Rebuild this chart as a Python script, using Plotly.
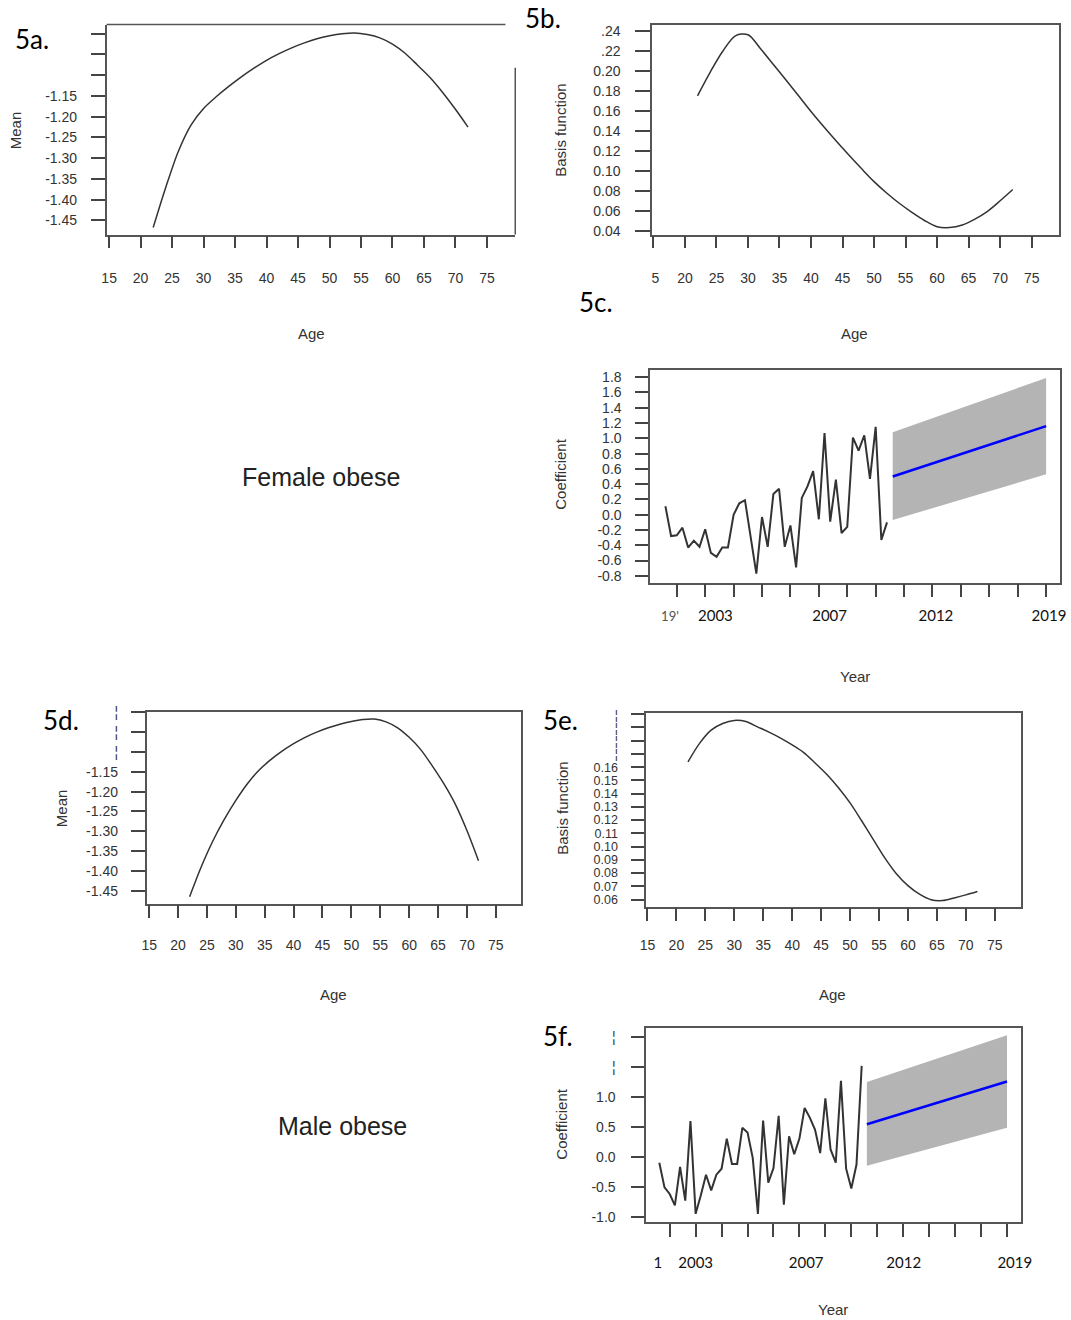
import plotly.graph_objects as go

W, H = 1071, 1320

# ---------------- data ----------------
ages = [22, 24, 26, 28, 30, 32, 34, 36, 38, 40, 42, 44, 46, 48, 50,
        52, 54, 56, 58, 60, 62, 64, 66, 68, 70, 72]

female_mean = [-1.467, -1.37, -1.283, -1.22, -1.18, -1.152, -1.127, -1.104, -1.083,
               -1.064, -1.048, -1.034, -1.022, -1.012, -1.005, -1.000, -0.998,
               -1.002, -1.010, -1.025, -1.047, -1.076, -1.106, -1.142, -1.182, -1.225]

female_basis = [0.1755, 0.199, 0.220, 0.2355, 0.2365, 0.2225, 0.207, 0.1915, 0.1757,
                0.1597, 0.1447, 0.1302, 0.1162, 0.1027, 0.0897, 0.0783, 0.068, 0.059,
                0.0508, 0.0445, 0.0437, 0.0463, 0.0522, 0.060, 0.0705, 0.0818]

male_mean = [-1.465, -1.39, -1.325, -1.27, -1.222, -1.18, -1.146, -1.120, -1.098,
             -1.079, -1.063, -1.050, -1.039, -1.030, -1.023, -1.018, -1.017,
             -1.024, -1.039, -1.063, -1.094, -1.135, -1.180, -1.232, -1.298, -1.374]

male_basis = [0.164, 0.178, 0.188, 0.193, 0.1953, 0.1945, 0.1905, 0.1865, 0.182,
              0.1768, 0.171, 0.163, 0.1545, 0.1445, 0.133, 0.1195, 0.1055, 0.0915,
              0.0795, 0.0705, 0.064, 0.0598, 0.0592, 0.0612, 0.0635, 0.0661]

periods = list(range(40))

female_coef = [0.11, -0.28, -0.27, -0.17, -0.43, -0.34, -0.42, -0.19, -0.50, -0.55,
               -0.43, -0.43, 0.00, 0.15, 0.19, -0.28, -0.77, -0.03, -0.42, 0.27,
               0.34, -0.42, -0.14, -0.69, 0.22, 0.37, 0.57, -0.06, 1.07, -0.09,
               0.46, -0.24, -0.16, 1.01, 0.84, 1.04, 0.47, 1.15, -0.33, -0.10]

male_coef = [-0.09, -0.50, -0.61, -0.80, -0.16, -0.72, 0.60, -0.94, -0.63, -0.29,
             -0.55, -0.29, -0.19, 0.31, -0.11, -0.11, 0.49, 0.41, -0.01, -0.94,
             0.61, -0.42, -0.18, 0.69, -0.79, 0.35, 0.05, 0.31, 0.82, 0.66,
             0.46, 0.07, 0.98, 0.13, -0.09, 1.27, -0.19, -0.52, -0.12, 1.52]

forecast_periods = [40, 67]
female_fc_mean = [0.50, 1.16]
female_fc_lower = [-0.07, 0.53]
female_fc_upper = [1.08, 1.79]
male_fc_mean = [0.55, 1.26]
male_fc_lower = [-0.14, 0.49]
male_fc_upper = [1.25, 2.03]

age_ticks = [15, 20, 25, 30, 35, 40, 45, 50, 55, 60, 65, 70, 75]
age_ticktext_a = [str(a) for a in age_ticks]
age_ticktext_b = ["\u00a05"] + [str(a) for a in age_ticks[1:]]

mean_ticks = [-1.45, -1.40, -1.35, -1.30, -1.25, -1.20, -1.15, -1.10, -1.05, -1.00]
mean_text_a = ["-1.45", "-1.40", "-1.35", "-1.30", "-1.25", "-1.20", "-1.15", "", "", ""]
mean_text_d = ["-1.45", "-1.40", "-1.35", "-1.30", "-1.25", "-1.20", "-1.15", "\u00a6", "\u00a6", "\u00a6"]

basis_ticks_b = [0.04, 0.06, 0.08, 0.10, 0.12, 0.14, 0.16, 0.18, 0.20, 0.22, 0.24]
basis_text_b = ["0.04", "0.06", "0.08", "0.10", "0.12", "0.14", "0.16", "0.18", "0.20", ".22", ".24"]

basis_ticks_e = [0.06, 0.07, 0.08, 0.09, 0.10, 0.11, 0.12, 0.13, 0.14, 0.15, 0.16,
                 0.17, 0.18, 0.19, 0.20]
basis_text_e = ["0.06", "0.07", "0.08", "0.09", "0.10", "0.11", "0.12", "0.13", "0.14",
                "0.15", "0.16", "\u00a6", "\u00a6", "\u00a6", "\u00a6"]

coef_ticks_c = [-0.8, -0.6, -0.4, -0.2, 0.0, 0.2, 0.4, 0.6, 0.8, 1.0, 1.2, 1.4, 1.6, 1.8]
coef_text_c = ["-0.8", "-0.6", "-0.4", "-0.2", "0.0", "0.2", "0.4", "0.6", "0.8",
               "1.0", "1.2", "1.4", "1.6", "1.8"]
coef_ticks_f = [-1.0, -0.5, 0.0, 0.5, 1.0, 1.5, 2.0]
coef_text_f = ["-1.0", "-0.5", "0.0", "0.5", "1.0", "\u00a6", "\u00a6"]

period_ticks = [2, 7, 12, 17, 22, 27, 32, 37, 42, 47, 52, 57, 62, 67]

year_label_pos_c = [0.8, 8.8, 28.9, 47.6, 67.5]
year_label_text_c = ["<span style='color:#555;font-size:13px'>19'</span>", "2003", "2007", "2012", "2019"]
year_label_pos_f = [-0.3, 7.0, 28.3, 47.1, 68.5]
year_label_text_f = ["1", "2003", "2007", "2012", "2019"]

# ---------------- styling ----------------
TICKFONT = dict(family="Liberation Sans, Arial, sans-serif", size=14, color="#333")
TICKFONT_SMALL = dict(family="Liberation Sans, Arial, sans-serif", size=12.5, color="#333")
TITLEFONT = dict(family="Liberation Sans, Arial, sans-serif", size=15, color="#333")
YEARFONT = dict(family="Lato, Open Sans, sans-serif", size=15, color="#111")
LINE_COL = "#333"
BOX_COL = "#555"

# screen calibration (observed offset/scale of the captured page)
CAL_SX, CAL_SY = 0.985, 0.991
CAL_OX, CAL_OY = 6.3, 6.4


def cx(x):
    return (x - CAL_OX) / CAL_SX


def cy(y):
    return (y - CAL_OY) / CAL_SY


def dx(l, r):
    return [cx(l) / W, cx(r) / W]


def dy(t, b):
    return [1 - cy(b) / H, 1 - cy(t) / H]


def ax(**kw):
    d = dict(showline=True, mirror=True, linecolor=BOX_COL, linewidth=1.5,
             ticks="outside", tickcolor="#444", tickwidth=1.5,
             showgrid=False, zeroline=False, tickfont=TICKFONT, fixedrange=True)
    d.update(kw)
    return d


# panel boxes in pixels: (left, right, top, bottom)
A = (107, 516, 24, 234)
B = (653, 1060, 24, 234)
C = (651, 1061, 369, 582)
D = (147, 522, 711, 903)
E = (647, 1022, 712, 906)
F = (647, 1022, 1027, 1222)

fig = go.Figure()

# 5a
fig.add_trace(go.Scatter(x=ages, y=female_mean, mode="lines", xaxis="x", yaxis="y",
                         line=dict(color=LINE_COL, width=1.5, shape="spline", smoothing=0.9)))
# 5b
fig.add_trace(go.Scatter(x=ages, y=female_basis, mode="lines", xaxis="x2", yaxis="y2",
                         line=dict(color=LINE_COL, width=1.5, shape="spline", smoothing=0.9)))
# 5c
fig.add_trace(go.Scatter(x=forecast_periods, y=female_fc_lower, mode="lines", xaxis="x3", yaxis="y3",
                         line=dict(width=0, color="#b4b4b4")))
fig.add_trace(go.Scatter(x=forecast_periods, y=female_fc_upper, mode="lines", xaxis="x3", yaxis="y3",
                         line=dict(width=0, color="#b4b4b4"), fill="tonexty", fillcolor="#b4b4b4"))
fig.add_trace(go.Scatter(x=periods, y=female_coef, mode="lines", xaxis="x3", yaxis="y3",
                         line=dict(color=LINE_COL, width=2)))
fig.add_trace(go.Scatter(x=forecast_periods, y=female_fc_mean, mode="lines", xaxis="x3", yaxis="y3",
                         line=dict(color="#0000ff", width=2.5)))
fig.add_trace(go.Scatter(x=[], y=[], xaxis="x7", yaxis="y3", mode="lines"))
# 5d
fig.add_trace(go.Scatter(x=ages, y=male_mean, mode="lines", xaxis="x4", yaxis="y4",
                         line=dict(color=LINE_COL, width=1.5, shape="spline", smoothing=0.9)))
# 5e
fig.add_trace(go.Scatter(x=ages, y=male_basis, mode="lines", xaxis="x5", yaxis="y5",
                         line=dict(color=LINE_COL, width=1.5, shape="spline", smoothing=0.9)))
# 5f
fig.add_trace(go.Scatter(x=forecast_periods, y=male_fc_lower, mode="lines", xaxis="x6", yaxis="y6",
                         line=dict(width=0, color="#b4b4b4")))
fig.add_trace(go.Scatter(x=forecast_periods, y=male_fc_upper, mode="lines", xaxis="x6", yaxis="y6",
                         line=dict(width=0, color="#b4b4b4"), fill="tonexty", fillcolor="#b4b4b4"))
fig.add_trace(go.Scatter(x=periods, y=male_coef, mode="lines", xaxis="x6", yaxis="y6",
                         line=dict(color=LINE_COL, width=2)))
fig.add_trace(go.Scatter(x=forecast_periods, y=male_fc_mean, mode="lines", xaxis="x6", yaxis="y6",
                         line=dict(color="#0000ff", width=2.5)))
fig.add_trace(go.Scatter(x=[], y=[], xaxis="x8", yaxis="y6", mode="lines"))

layout = dict(
    width=W, height=H, margin=dict(l=0, r=0, t=0, b=0),
    paper_bgcolor="white", plot_bgcolor="white", showlegend=False, hovermode=False,
    # 5a (top/right frame drawn separately, clipped as in the source image)
    xaxis=ax(domain=dx(A[0], A[1]), anchor="y", range=[14.6, 79.5], tickvals=age_ticks,
             ticktext=age_ticktext_a, ticklen=12, ticklabelstandoff=18, mirror=False),
    yaxis=ax(domain=dy(A[2], A[3]), anchor="x", range=[-1.484, -0.978], tickvals=mean_ticks,
             ticktext=mean_text_a, ticklen=14, ticklabelstandoff=11, mirror=False),
    # 5b
    xaxis2=ax(domain=dx(B[0], B[1]), anchor="y2", range=[14.8, 79.3], tickvals=age_ticks,
              ticktext=age_ticktext_b, ticklen=12, ticklabelstandoff=18),
    yaxis2=ax(domain=dy(B[2], B[3]), anchor="x2", range=[0.0367, 0.2467], tickvals=basis_ticks_b,
              ticktext=basis_text_b, ticklen=15, ticklabelstandoff=12),
    # 5c
    xaxis3=ax(domain=dx(C[0], C[1]), anchor="y3", range=[-2.69, 69.4], tickvals=period_ticks,
              ticktext=[""] * len(period_ticks), ticklen=13),
    yaxis3=ax(domain=dy(C[2], C[3]), anchor="x3", range=[-0.888, 1.90], tickvals=coef_ticks_c,
              ticktext=coef_text_c, ticklen=13, ticklabelstandoff=11),
    xaxis7=dict(overlaying="x3", anchor="y3", side="bottom", range=[-2.69, 69.4],
                tickvals=year_label_pos_c, ticktext=year_label_text_c, ticks="",
                showline=False, showgrid=False, zeroline=False, tickfont=YEARFONT,
                ticklabelstandoff=22, fixedrange=True),
    # 5d
    xaxis4=ax(domain=dx(D[0], D[1]), anchor="y4", range=[14.55, 79.4], tickvals=age_ticks,
              ticktext=age_ticktext_a, ticklen=13, ticklabelstandoff=15),
    yaxis4=ax(domain=dy(D[2], D[3]), anchor="x4", range=[-1.482, -0.998], tickvals=mean_ticks,
              ticktext=mean_text_d, ticklen=14, ticklabelstandoff=10),
    # 5e
    xaxis5=ax(domain=dx(E[0], E[1]), anchor="y5", range=[14.77, 79.5], tickvals=age_ticks,
              ticktext=age_ticktext_a, ticklen=13, ticklabelstandoff=12),
    yaxis5=ax(domain=dy(E[2], E[3]), anchor="x5", range=[0.0547, 0.2013], tickvals=basis_ticks_e,
              ticktext=basis_text_e, ticklen=13, ticklabelstandoff=11, tickfont=TICKFONT_SMALL),
    # 5f
    xaxis6=ax(domain=dx(F[0], F[1]), anchor="y6", range=[-2.54, 69.66], tickvals=period_ticks,
              ticktext=[""] * len(period_ticks), ticklen=13),
    yaxis6=ax(domain=dy(F[2], F[3]), anchor="x6", range=[-1.084, 2.157], tickvals=coef_ticks_f,
              ticktext=coef_text_f, ticklen=13, ticklabelstandoff=13),
    xaxis8=dict(overlaying="x6", anchor="y6", side="bottom", range=[-2.54, 69.66],
                tickvals=year_label_pos_f, ticktext=year_label_text_f, ticks="",
                showline=False, showgrid=False, zeroline=False, tickfont=YEARFONT,
                ticklabelstandoff=30, fixedrange=True),
)
fig.update_layout(**layout)

# clipped frame of panel 5a: top edge stops short of the right edge, right edge starts lower
fig.add_shape(type="line", xref="x domain", yref="y domain", x0=0, x1=0.976, y0=1, y1=1,
              line=dict(color=BOX_COL, width=1.5))
fig.add_shape(type="line", xref="x domain", yref="y domain", x0=1, x1=1, y0=0, y1=0.795,
              line=dict(color=BOX_COL, width=1.5))


def ann(text, px, py, font, xanchor="center", angle=0):
    fig.add_annotation(text=text, x=cx(px) / W, y=1 - cy(py) / H, xref="paper", yref="paper",
                       showarrow=False, xanchor=xanchor, yanchor="middle",
                       textangle=angle, font=font)


# axis titles
ann("Mean", 16, 130, TITLEFONT, angle=-90)
ann("Age", 312, 333, TITLEFONT)
ann("Basis function", 561, 130, TITLEFONT, angle=-90)
ann("Age", 856, 333, TITLEFONT)
ann("Coefficient", 561, 474, TITLEFONT, angle=-90)
ann("Year", 856, 676, TITLEFONT)
ann("Mean", 62, 808, TITLEFONT, angle=-90)
ann("Age", 334, 994, TITLEFONT)
ann("Basis function", 563, 808, TITLEFONT, angle=-90)
ann("Age", 834, 994, TITLEFONT)
ann("Coefficient", 562, 1124, TITLEFONT, angle=-90)
ann("Year", 834, 1309, TITLEFONT)

# panel labels
PANELFONT = dict(family="Lato, Open Sans, sans-serif", size=26, color="#000")
ann("5a.", 13, 38, PANELFONT, xanchor="left")
ann("5b.", 524, 17, PANELFONT, xanchor="left")
ann("5c.", 578, 301, PANELFONT, xanchor="left")
ann("5d.", 41, 719, PANELFONT, xanchor="left")
ann("5e.", 542, 719, PANELFONT, xanchor="left")
ann("5f.", 542, 1035, PANELFONT, xanchor="left")

GROUPFONT = dict(family="Liberation Sans, Arial, sans-serif", size=25, color="#222")
ann("Female obese", 322, 476, GROUPFONT)
ann("Male obese", 343, 1126, GROUPFONT)

fig.write_html(
    "out.html",
    config={"displayModeBar": False},
    post_script="document.body.style.margin='0';document.body.style.padding='0';"
                "document.body.style.overflow='hidden';"
                "document.documentElement.style.overflow='hidden';",
)
